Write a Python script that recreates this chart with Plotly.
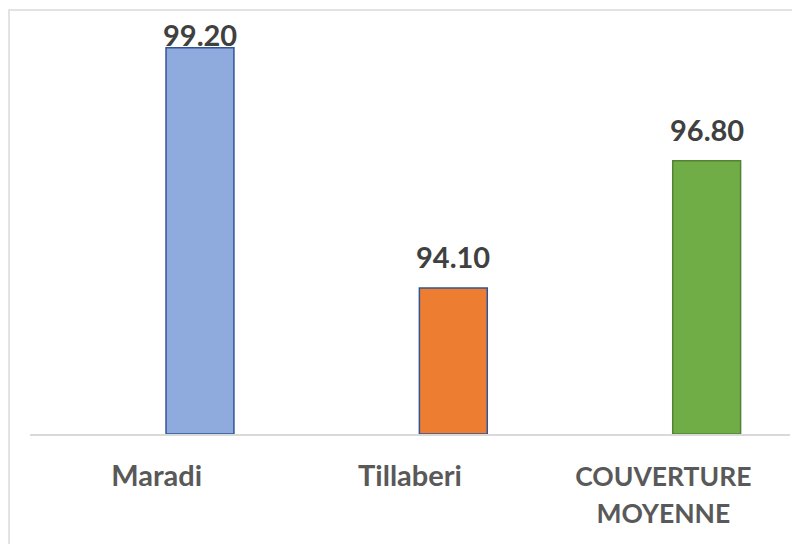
import plotly.graph_objects as go

# Vaccination coverage by region (%)
categories = ["Maradi", "Tillaberi", "COUVERTURE MOYENNE"]
values = [99.20, 94.10, 96.80]
fill_colors = ["#8FAADC", "#ED7D31", "#70AD47"]
edge_colors = ["#2F5597", "#2F5597", "#548235"]

Y_MIN, Y_MAX = 91, 100
WIDTH, HEIGHT = 792, 544
M_L, M_R, M_T, M_B = 30, 1.5, 10, 110
plot_h = HEIGHT - M_T - M_B
plot_w = WIDTH - M_L - M_R
px_per_unit = plot_h / (Y_MAX - Y_MIN)
FONT = "Lato, Carlito, sans-serif"
BAR_W = 0.268
BAR_SHIFT = 0.171  # bars sit right of the slot centre (second slot of a group)


def tick_text(name):
    # long multi-word names wrap onto two lines in a slightly smaller size
    if " " in name:
        return f'<span style="font-size:26.5px"><b>{name.replace(" ", "<br>")}</b></span>'
    return f"<b>{name}</b>"


fig = go.Figure()
fig.add_trace(go.Bar(
    x=categories,
    y=[v - Y_MIN for v in values],  # bar heights measured from the axis floor
    base=Y_MIN,
    width=BAR_W,
    offset=BAR_SHIFT - BAR_W / 2,
    marker=dict(color=fill_colors, line=dict(color=edge_colors, width=1.5)),
    hoverinfo="skip",
))

# value labels above each bar, kept inside the chart area at the top
for i, v in enumerate(values):
    room = (Y_MAX - v) * px_per_unit - 44
    shift = min(12, room)
    fig.add_annotation(
        x=i + BAR_SHIFT, y=v, xref="x", yref="y",
        text=f"<b>{v:.2f}</b>", showarrow=False,
        yanchor="bottom", yshift=shift,
        font=dict(family=FONT, size=29, color="#404040"),
    )

# light frame around the chart
fig.add_shape(
    type="rect", xref="paper", yref="paper",
    x0=-21 / plot_w, x1=1.2, y0=-0.5, y1=1.0,
    line=dict(color="#D9D9D9", width=1.5), fillcolor="rgba(0,0,0,0)", layer="below",
)

fig.update_layout(
    width=WIDTH, height=HEIGHT,
    margin=dict(l=M_L, r=M_R, t=M_T, b=M_B, pad=0, autoexpand=False),
    plot_bgcolor="white", paper_bgcolor="white",
    showlegend=False,
    xaxis=dict(
        type="category",
        range=[-0.5, 2.5],
        tickvals=categories,
        ticktext=[tick_text(c) for c in categories],
        tickfont=dict(family=FONT, size=29, color="#595959"),
        showline=True, linecolor="#D9D9D9", linewidth=1.5,
        ticks="", showgrid=False, zeroline=False,
        ticklabelstandoff=15, automargin=False,
    ),
    yaxis=dict(
        range=[Y_MIN, Y_MAX],
        visible=False, showgrid=False, zeroline=False, automargin=False,
    ),
)

fig.write_html("out.html")
